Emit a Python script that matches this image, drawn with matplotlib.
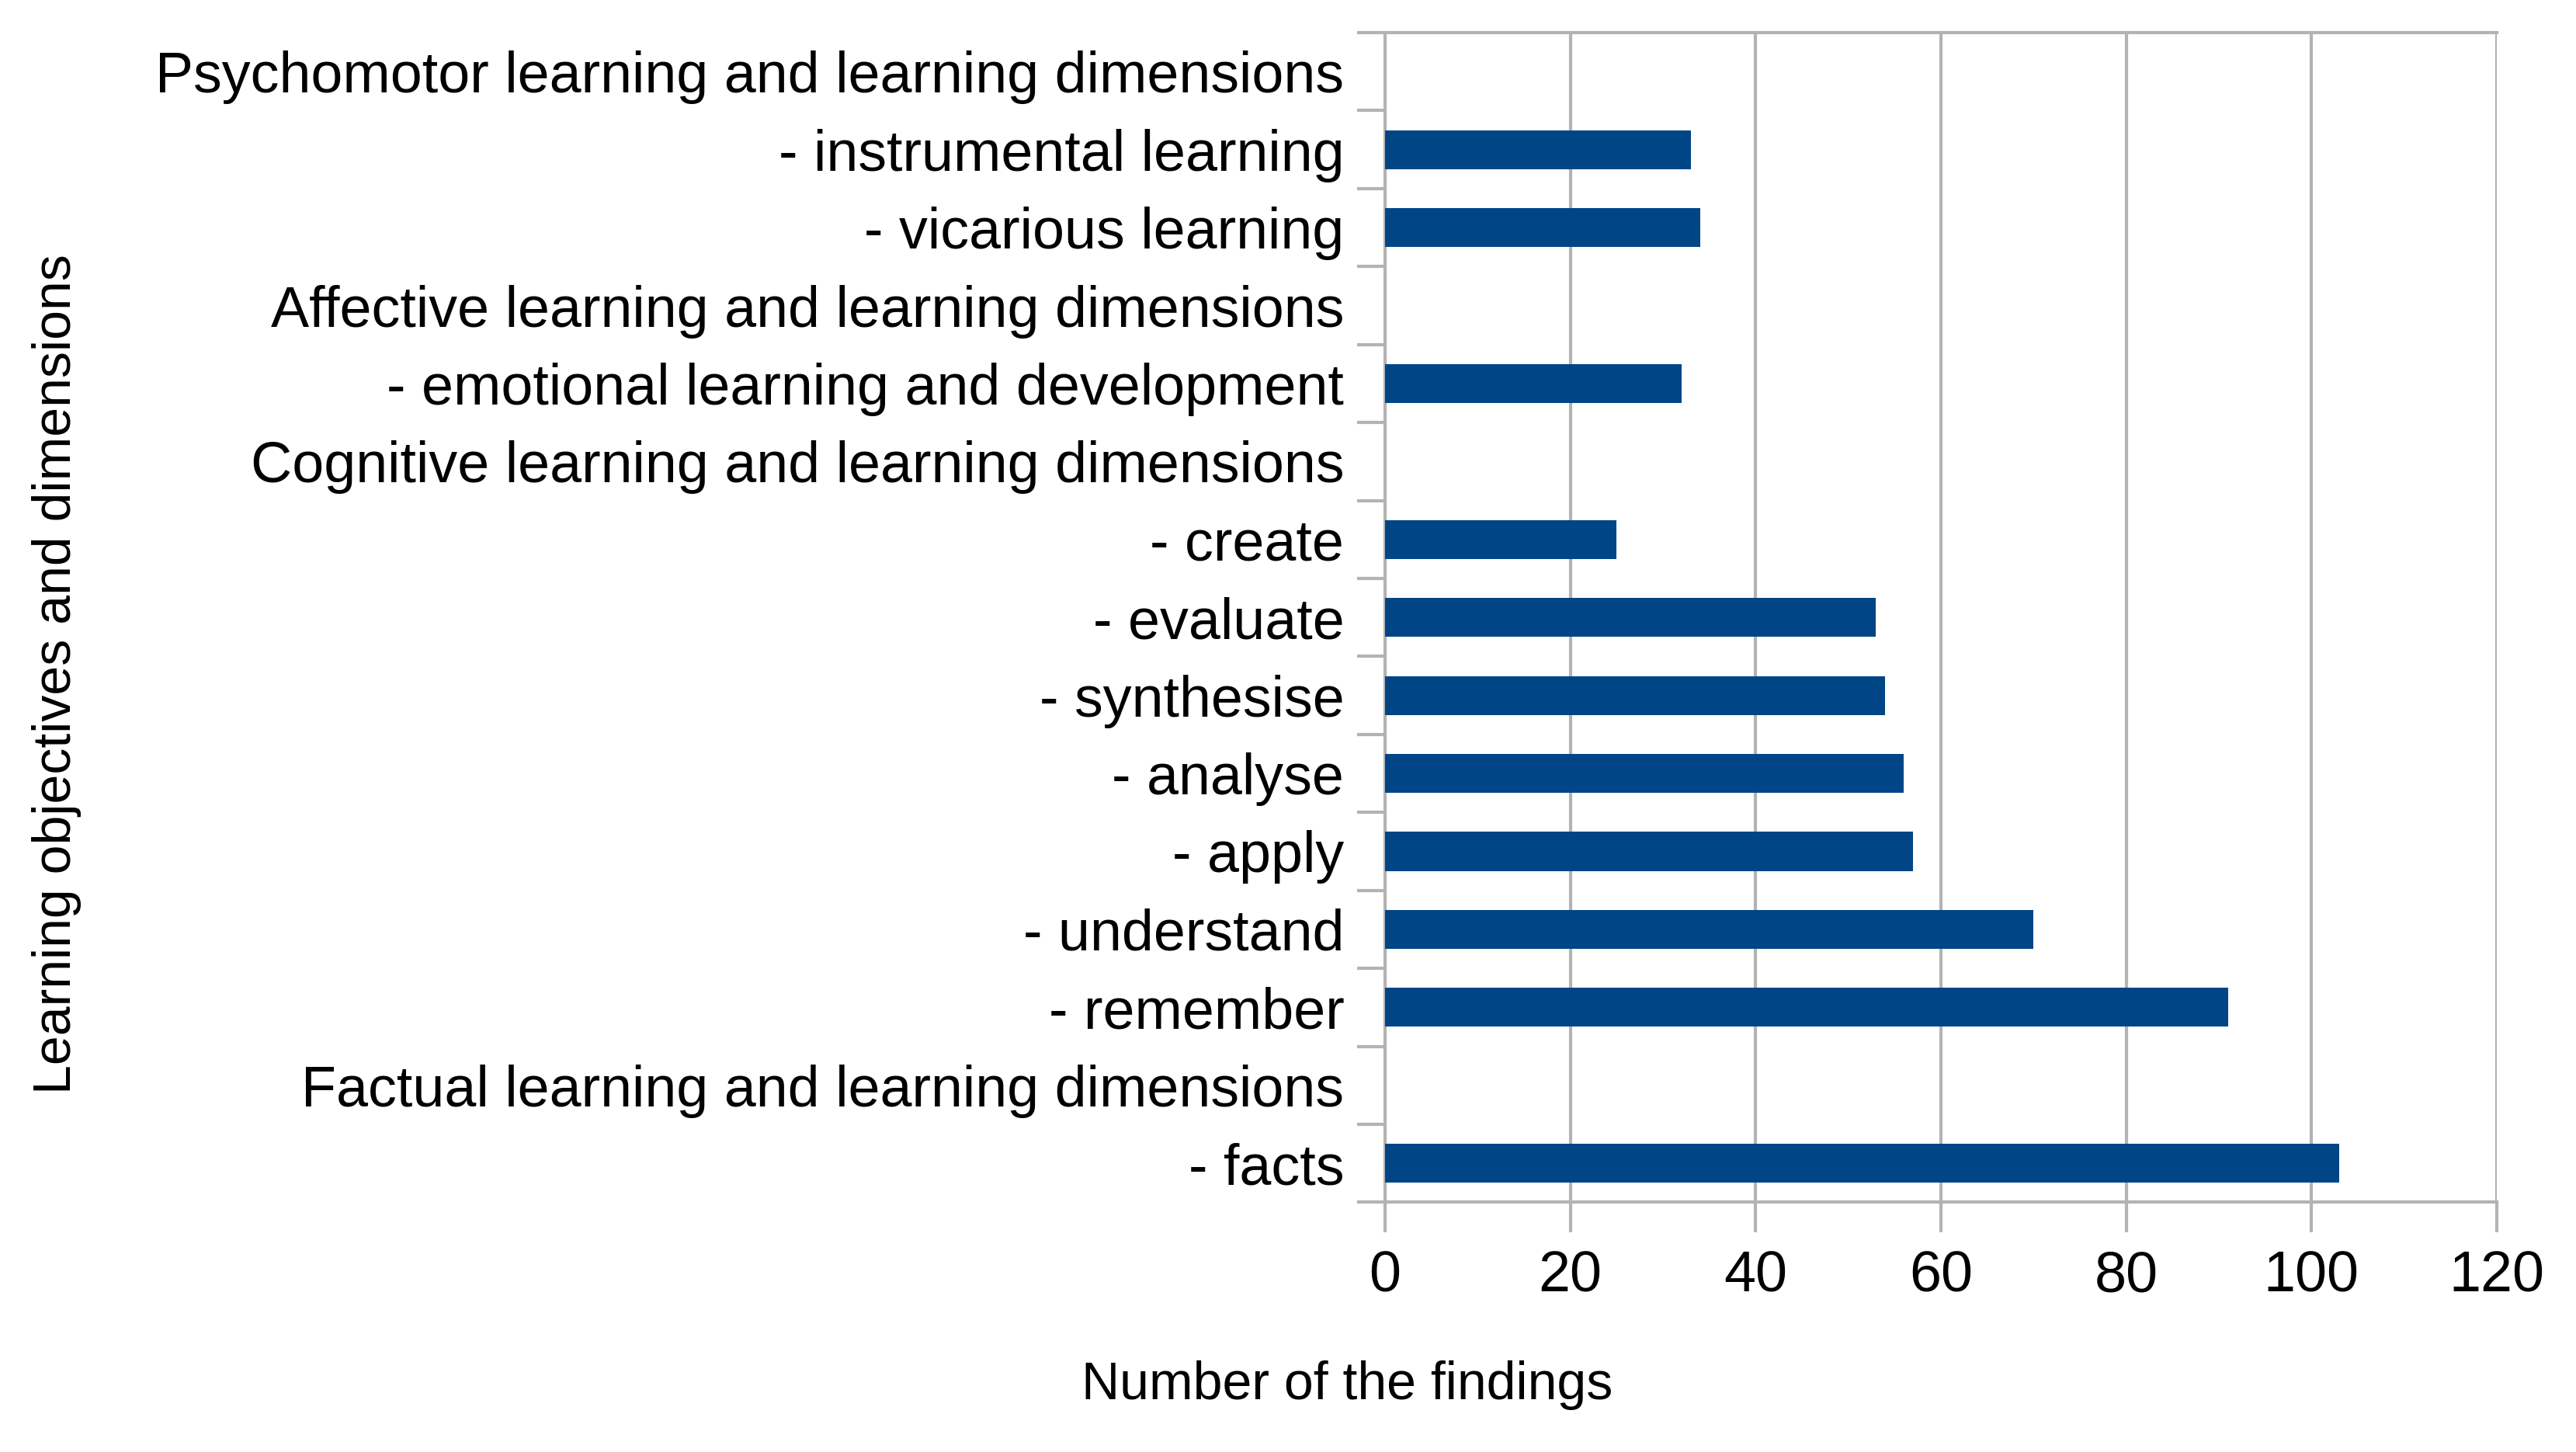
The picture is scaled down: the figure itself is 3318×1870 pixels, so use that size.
import numpy as np
import matplotlib
matplotlib.use('Agg')
import matplotlib.pyplot as plt

plt.rcParams['font.family'] = ['Liberation Sans', 'DejaVu Sans']

# categories, from bottom to top
categories = [
    '- facts',
    'Factual learning and learning dimensions',
    '- remember',
    '- understand',
    '- apply',
    '- analyse',
    '- synthesise',
    '- evaluate',
    '- create',
    'Cognitive learning and learning dimensions',
    '- emotional learning and development',
    'Affective learning and learning dimensions',
    '- vicarious learning',
    '- instrumental learning',
    'Psychomotor learning and learning dimensions',
]
# number of findings (headings have no bar)
findings = [103, 0, 91, 70, 57, 56, 54, 53, 25, 0, 32, 0, 34, 33, 0]

x_ticks = [0, 20, 40, 60, 80, 100, 120]

bar_color = '#004586'
grid_color = '#b3b3b3'

fig = plt.figure(figsize=(33.18, 18.70), dpi=100)
ax = fig.add_axes([0.5377, 0.172, 0.4315, 0.8055])

y = np.arange(len(categories))
ax.barh(y, findings, height=0.5, color=bar_color, zorder=3)

ax.set_xlim(0, 120)
ax.set_ylim(-0.5, len(categories) - 0.5)
ax.set_xticks(x_ticks)
ax.set_xticklabels([str(t) for t in x_ticks], fontsize=53)

# labels centred on bars, tick marks between categories
ax.set_yticks(y)
ax.set_yticklabels(categories, fontsize=53)
ax.set_yticks(np.arange(-0.5, len(categories), 1), minor=True)
ax.tick_params(axis='y', which='major', length=0, pad=38)
ax.tick_params(axis='y', which='minor', length=26, width=3, color=grid_color)
ax.tick_params(axis='x', length=28, width=3, color=grid_color, pad=16)

ax.grid(axis='x', color=grid_color, linewidth=3, zorder=0)
for s in ['left', 'top', 'bottom']:
    ax.spines[s].set_color(grid_color)
    ax.spines[s].set_linewidth(3)
ax.spines['right'].set_visible(False)

fig.text(0.523, 0.046, 'Number of the findings', fontsize=49, ha='center', va='center')
fig.text(0.022, 0.536, 'Learning objectives and dimensions', fontsize=49,
         rotation=90, ha='center', va='center')

fig.savefig('out.png', dpi=100, facecolor='white')
